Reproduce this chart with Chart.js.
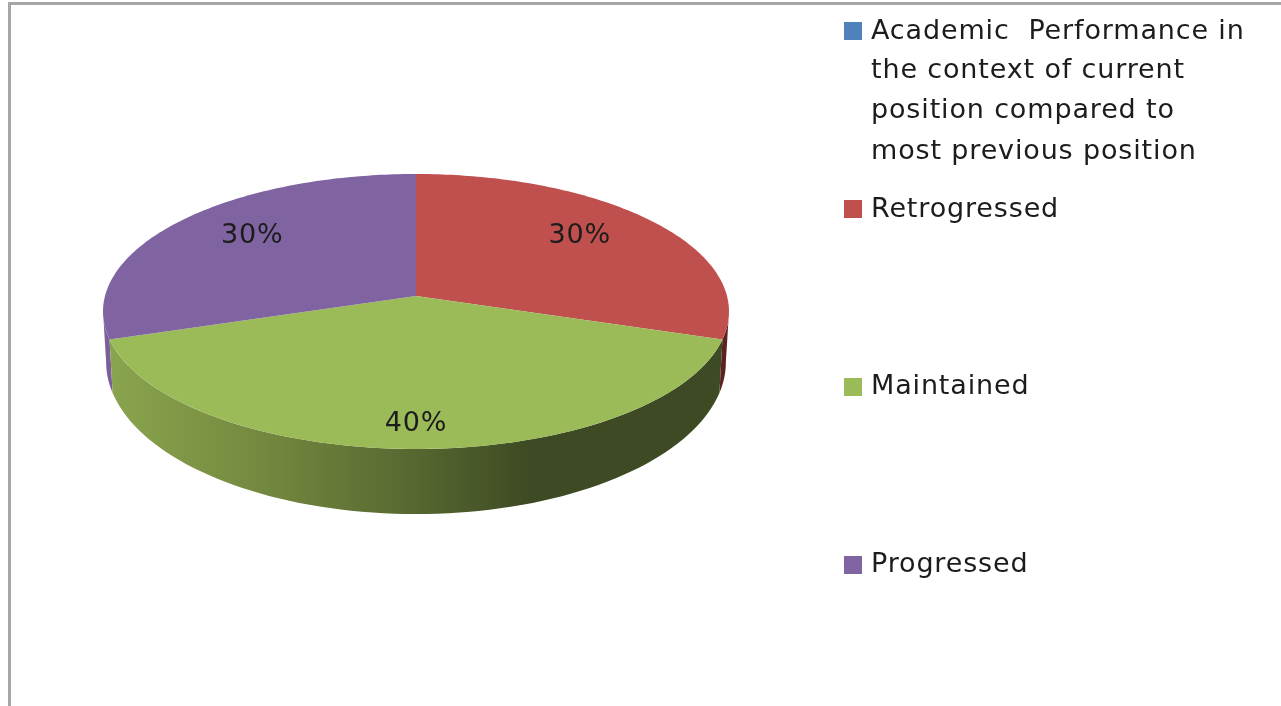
<!DOCTYPE html>
<html>
<head>
<meta charset="utf-8">
<title>Academic Performance</title>
<script src="https://cdn.jsdelivr.net/npm/chart.js@4/dist/chart.umd.js"></script>
<style>
    html, body { margin: 0; padding: 0; background: #fff; overflow: hidden; }
    #wrap { position: relative; width: 1281px; height: 706px; }
    #frame { position: absolute; left: 8px; top: 2px; right: 0; bottom: 0; border-top: 3px solid #a6a6a6; border-left: 3px solid #a6a6a6; filter: blur(0.5px); }
    #chart { position: absolute; left: 0; top: 0; filter: blur(0.6px); }
</style>
</head>
<body>
<div id="wrap">
    <div id="frame"></div>
    <canvas id="chart" width="1281" height="706"></canvas>
</div>
<script>
const categories = ["Academic  Performance in the context of current position compared to most previous position", "Retrogressed", "Maintained", "Progressed"]
const shares = [0, 30, 40, 30]
const sliceColors = ["#4f81bd", "#c0504d", "#9bbb59", "#8064a2"]

// legend text, wrapped like the original
const legendLines = [
    ["Academic  Performance in", "the context of current", "position compared to", "most previous position"],
    ["Retrogressed"],
    ["Maintained"],
    ["Progressed"],
]
const legendLineY = [[32, 71, 111, 152], [210], [387], [565]]
const legendBoxY = [22, 200, 378, 556]

// 3d look: tilt of the disc and height of the wall
const radiusX = 311
const radiusY = 135.75
const tilt = 0.1127
const wallShiftY = 49
const wallScaleX = 0.99
const wallScaleY = 1.105
const labelFrac = [0, 0.68, 0.85, 0.68]
const labelShiftY = [0, -8, 0, -8]
const textFont = "27px 'DejaVu Sans'"

function project(arc, angle, frac) {
    const u = Math.cos(angle) * frac
    const v = -Math.sin(angle) * frac
    const w = 1 + tilt * v
    return { x: arc.x + (radiusX * u) / w, y: arc.y - (radiusY * v) / w }
}

function wallPoint(arc, angle) {
    const p = project(arc, angle, 1)
    return {
        x: arc.x + (p.x - arc.x) * wallScaleX,
        y: arc.y + wallShiftY + (p.y - arc.y) * wallScaleY,
    }
}

function wallFill(ctx, index) {
    const gradient = ctx.createLinearGradient(105, 0, 730, 0)
    if (index === 2) {
        gradient.addColorStop(0, "#8aa54e")
        gradient.addColorStop(0.25, "#74893f")
        gradient.addColorStop(0.48, "#586a31")
        gradient.addColorStop(0.68, "#3e4a23")
        gradient.addColorStop(1, "#3e4a23")
    } else if (index === 3) {
        gradient.addColorStop(0, "#7a5f9b")
        gradient.addColorStop(1, "#7a5f9b")
    } else {
        gradient.addColorStop(0, "#5c2120")
        gradient.addColorStop(1, "#5c2120")
    }
    return gradient
}

function drawWall(ctx, arc, index) {
    const edge = Math.asin(tilt)
    const from = Math.max(arc.startAngle, edge)
    const to = Math.min(arc.endAngle, Math.PI - edge)
    if (to <= from) return
    ctx.beginPath()
    for (let i = 0; i <= 80; i++) {
        const p = project(arc, from + ((to - from) * i) / 80, 1)
        if (i === 0) ctx.moveTo(p.x, p.y)
        else ctx.lineTo(p.x, p.y)
    }
    for (let i = 80; i >= 0; i--) {
        const p = wallPoint(arc, from + ((to - from) * i) / 80)
        ctx.lineTo(p.x, p.y)
    }
    ctx.closePath()
    ctx.fillStyle = wallFill(ctx, index)
    ctx.fill()
}

function drawTop(ctx, arc, index) {
    if (arc.endAngle <= arc.startAngle) return
    ctx.beginPath()
    ctx.moveTo(arc.x, arc.y)
    for (let i = 0; i <= 120; i++) {
        const p = project(arc, arc.startAngle + ((arc.endAngle - arc.startAngle) * i) / 120, 1)
        ctx.lineTo(p.x, p.y)
    }
    ctx.closePath()
    ctx.fillStyle = sliceColors[index]
    ctx.fill()
}

const pie3d = {
    id: "pie3d",
    // the library's arcs give the angles, the disc is drawn tilted from them
    beforeDatasetDraw(chart) {
        const ctx = chart.ctx
        const arcs = chart.getDatasetMeta(0).data
        ctx.save()
        ;[1, 3, 2].forEach((i) => drawWall(ctx, arcs[i], i))
        arcs.forEach((arc, i) => drawTop(ctx, arc, i))
        ctx.restore()
        return false
    },
    afterDatasetsDraw(chart) {
        const ctx = chart.ctx
        const arcs = chart.getDatasetMeta(0).data
        ctx.save()
        ctx.font = textFont
        ctx.letterSpacing = "0.85px"
        ctx.fillStyle = "#1c1c1c"
        ctx.textBaseline = "middle"
        ctx.textAlign = "center"
        arcs.forEach((arc, i) => {
            if (!shares[i]) return
            const p = project(arc, (arc.startAngle + arc.endAngle) / 2, labelFrac[i])
            ctx.fillText(shares[i] + "%", p.x, p.y + labelShiftY[i])
        })
        // legend
        ctx.textAlign = "left"
        legendLines.forEach((lines, i) => {
            ctx.fillStyle = sliceColors[i]
            ctx.fillRect(844, legendBoxY[i], 18, 18)
            ctx.fillStyle = "#1c1c1c"
            lines.forEach((line, j) => ctx.fillText(line, 871, legendLineY[i][j]))
        })
        ctx.restore()
    },
}

new Chart(document.getElementById("chart"), {
    type: "pie",
    data: {
        labels: categories,
        datasets: [{ data: shares, backgroundColor: sliceColors, borderWidth: 0 }],
    },
    options: {
        responsive: false,
        animation: false,
        layout: { padding: { left: 0, top: 0, right: 449, bottom: 114 } },
        plugins: {
            legend: { display: false },
            tooltip: { enabled: false },
        },
    },
    plugins: [pie3d],
})
</script>
</body>
</html>
